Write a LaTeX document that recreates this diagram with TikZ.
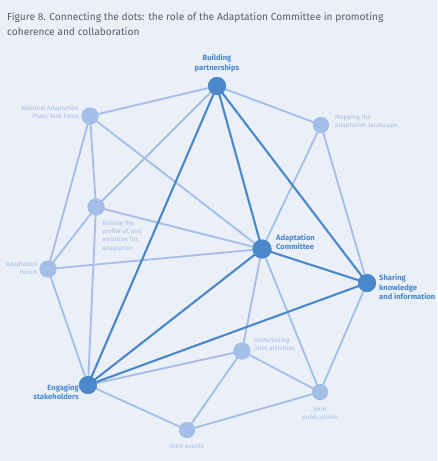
\documentclass[tikz,border=0pt]{standalone}
\usepackage{fontspec}
\setmainfont{Fira Sans}
\definecolor{bg}{HTML}{EAEFF8}
\definecolor{dk}{HTML}{4A88CB}
\definecolor{lt}{HTML}{A3BFE7}
\definecolor{ltx}{HTML}{A6BEE2}
\definecolor{ttl}{HTML}{5A5E66}
\begin{document}
\begin{tikzpicture}[x=1pt,y=-1pt,
  ltedge/.style={draw=lt,line width=1.8pt},
  dkedge/.style={draw=dk,line width=2.1pt},
  ltdot/.style={circle,fill=lt,minimum size=17pt,inner sep=0pt},
  dkdot/.style={circle,fill=dk,minimum size=18pt,inner sep=0pt},
  ltlab/.style={text=ltx,font=\fontsize{6.3}{8.3}\selectfont,inner sep=0pt},
  dklab/.style={text=dk,font=\fontsize{7.6}{9.2}\selectfont\bfseries,inner sep=0pt}]
\fill[bg] (0,0) rectangle (437,461);
\useasboundingbox (0,0) rectangle (437,461);
\node[anchor=north west,inner sep=0pt,text=ttl,align=left,font=\fontsize{10.2}{15}\selectfont] (title) at (7,12) {Figure 8. Connecting the dots: the role of the Adaptation Committee in promoting\\coherence and collaboration};
% nodes
\node[dkdot] (bp) at (217,86) {};
\node[ltdot] (nap) at (90,116) {};
\node[ltdot,minimum size=16pt] (map) at (321,125) {};
\node[ltdot] (rp) at (96,207) {};
\node[dkdot,minimum size=19pt] (ac) at (262,249) {};
\node[ltdot] (af) at (48,269) {};
\node[dkdot] (sk) at (367,283) {};
\node[ltdot] (uj) at (242,351) {};
\node[dkdot] (es) at (88,385) {};
\node[ltdot,minimum size=16pt] (jp) at (320,392) {};
\node[ltdot,minimum size=16pt] (je) at (187,430) {};
% edges
\path[ltedge] (bp.center) -- (nap.center);
\path[ltedge] (bp.center) -- (map.center);
\path[ltedge] (bp.center) -- (rp.center);
\path[ltedge] (nap.center) -- (rp.center);
\path[ltedge] (nap.center) -- (af.center);
\path[ltedge] (nap.center) -- (ac.center);
\path[ltedge] (rp.center) -- (ac.center);
\path[ltedge] (rp.center) -- (af.center);
\path[ltedge] (rp.center) -- (es.center);
\path[ltedge] (af.center) -- (ac.center);
\path[ltedge] (af.center) -- (es.center);
\path[ltedge] (map.center) -- (ac.center);
\path[ltedge] (map.center) -- (sk.center);
\path[ltedge] (sk.center) -- (jp.center);
\path[ltedge] (ac.center) -- (uj.center);
\path[ltedge] (ac.center) -- (jp.center);
\path[ltedge] (es.center) -- (uj.center);
\path[ltedge] (es.center) -- (je.center);
\path[ltedge] (uj.center) -- (je.center);
\path[ltedge] (uj.center) -- (jp.center);
\path[ltedge] (je.center) -- (jp.center);
\path[dkedge] (bp.center) -- (ac.center);
\path[dkedge] (bp.center) -- (sk.center);
\path[dkedge] (bp.center) -- (es.center);
\path[dkedge] (ac.center) -- (sk.center);
\path[dkedge] (ac.center) -- (es.center);
\path[dkedge] (sk.center) -- (es.center);
% redraw dots on top
\node[dkdot] at (bp) {};
\node[ltdot] at (nap) {};
\node[ltdot,minimum size=16pt] at (map) {};
\node[ltdot] at (rp) {};
\node[dkdot,minimum size=19pt] at (ac) {};
\node[ltdot] at (af) {};
\node[dkdot] at (sk) {};
\node[ltdot] at (uj) {};
\node[dkdot] at (es) {};
\node[ltdot,minimum size=16pt] at (jp) {};
\node[ltdot,minimum size=16pt] at (je) {};
% labels
\node[dklab,align=center,anchor=south] (bpl) at (217,72) {Building\\partnerships};
\node[ltlab,align=right,anchor=east] (napl) at (79,112) {National Adaptation\\Plans Task Force};
\node[ltlab,align=left,anchor=west] (mapl) at (335,122) {Mapping the\\adaptation landscape};
\node[ltlab,align=left,anchor=north west] (rpl) at (102,220) {Raising the\\profile of, and\\ambition for,\\adaptation};
\node[dklab,align=left,anchor=west] (acl) at (276,242) {Adaptation\\Committee};
\node[ltlab,align=right,anchor=east] (afl) at (38,268) {Adaptation\\Forum};
\node[dklab,align=left,anchor=west] (skl) at (379,287) {Sharing\\knowledge\\and information};
\node[ltlab,align=left,anchor=west] (ujl) at (254,345) {Undertaking\\joint activities};
\node[dklab,align=right,anchor=east] (esl) at (79,392) {Engaging\\stakeholders};
\node[ltlab,align=center,anchor=north] (jpl) at (320,406) {Joint\\publications};
\node[ltlab,align=center,anchor=north] (jel) at (187,443) {Joint events};
\end{tikzpicture}
\end{document}
